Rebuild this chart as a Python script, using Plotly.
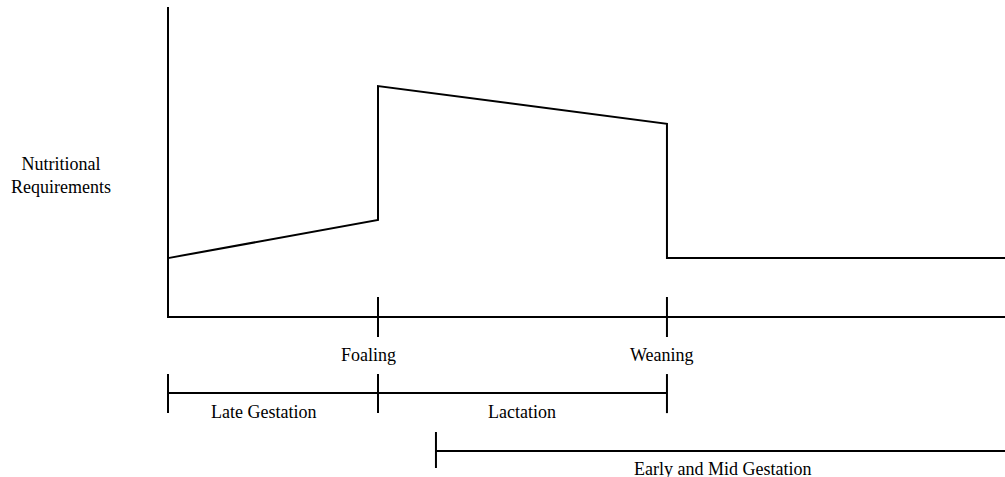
import plotly.graph_objects as go

# ---- data (arbitrary time units / relative requirement levels) ----
event_labels = ["Foaling", "Weaning"]
event_times = [10.0, 23.76]
stage_labels = ["Late Gestation", "Lactation", "Early and Mid Gestation"]
stage_starts = [0.0, 10.0, 12.76]
stage_ends = [10.0, 23.76, 39.86]
req_time = [0.0, 10.0, 10.0, 23.76, 23.76, 39.86]
req_value = [19.0, 31.3, 74.5, 62.3, 19.0, 19.0]
y_label = "Nutritional<br>Requirements"
y_top = 100.0
t_end = 39.86

BLACK = "#000000"
LW = 2
FONT = dict(family="Liberation Serif, Times New Roman, serif", size=18, color=BLACK)

fig = go.Figure()

def seg(xs, ys):
    fig.add_trace(go.Scatter(x=xs, y=ys, mode="lines",
                             line=dict(color=BLACK, width=LW),
                             hoverinfo="skip", showlegend=False,
                             cliponaxis=False))

# axes
seg([0, 0, t_end], [y_top, 0, 0])
# requirement curve
seg(req_time, req_value)
# event ticks on time axis
for t in event_times:
    seg([t, t], [6.45, -6.45])

# stage brackets (rows)
row_y = [-24.5, -24.5, -43.2]
row_tick = [(-18.4, -31.0), (-18.4, -31.0), (-37.1, -48.7)]
for s, e, y, (ta, tb) in zip(stage_starts, stage_ends, row_y, row_tick):
    seg([s, e], [y, y])
    seg([s, s], [ta, tb])
    if e < t_end:
        seg([e, e], [ta, tb])

annotations = []
event_shift = [-10, -5]
for lab, t, dx in zip(event_labels, event_times, event_shift):
    annotations.append(dict(x=t, y=-12.3, text=lab, showarrow=False,
                            xshift=dx, font=FONT, xanchor="center", yanchor="middle"))
stage_label_y = [-30.6, -30.6, -49.0]
stage_shift = [-10, 0, 2]
for lab, s, e, y, dx in zip(stage_labels, stage_starts, stage_ends, stage_label_y, stage_shift):
    annotations.append(dict(x=(s + e) / 2, y=y, text=lab, showarrow=False,
                            xshift=dx, font=FONT, xanchor="center", yanchor="middle"))
annotations.append(dict(x=-5.1, y=45.6, text=y_label, showarrow=False,
                        font=FONT, xanchor="center", yanchor="middle"))

fig.update_layout(
    width=1005, height=477,
    margin=dict(l=0, r=0, t=0, b=0),
    paper_bgcolor="white", plot_bgcolor="white",
    xaxis=dict(visible=False, range=[-8.0, 39.857], fixedrange=True),
    yaxis=dict(visible=False, range=[-51.61, 102.26], fixedrange=True),
    annotations=annotations,
    showlegend=False,
)

fig.write_html("out.html", config={"displayModeBar": False},
               post_script="document.body.style.margin='0px';document.body.style.overflow='hidden';")
